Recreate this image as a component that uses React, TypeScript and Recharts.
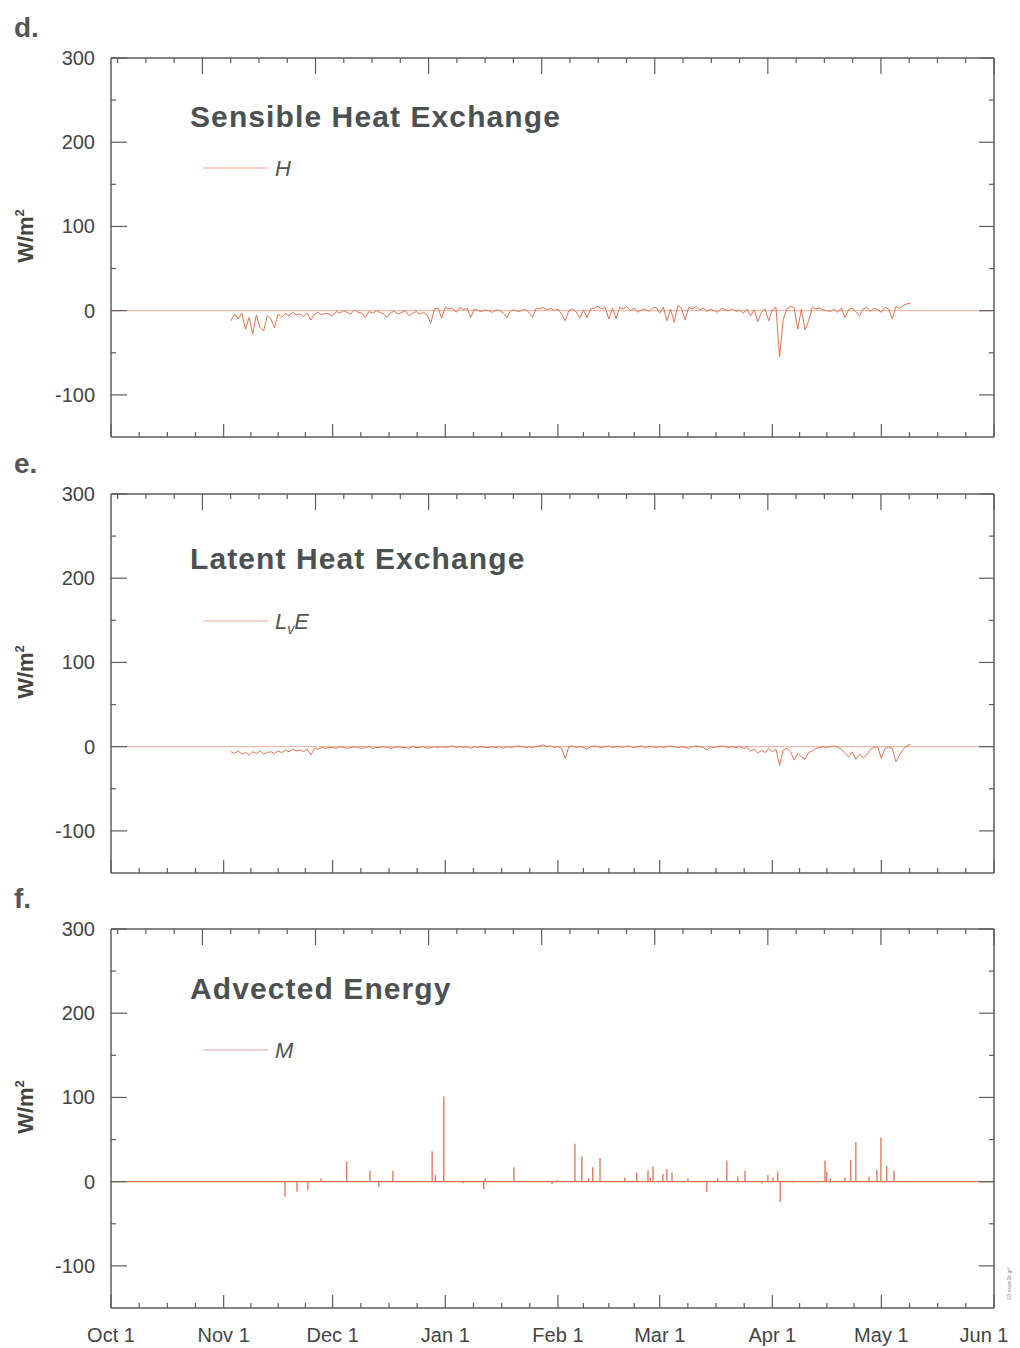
import { ComposedChart, Line, Bar, XAxis, YAxis, ReferenceLine } from "recharts";

// x axis: days since Oct 1
const monthDays = [0, 31, 61, 92, 123, 151, 182, 212, 243];
const monthLabels = ["Oct 1", "Nov 1", "Dec 1", "Jan 1", "Feb 1", "Mar 1", "Apr 1", "May 1", "Jun 1"];
const yTicks = [-100, -50, 0, 50, 100, 150, 200, 250, 300];
const yLabels = [-100, 0, 100, 200, 300];

// d. sensible heat H, daily from Nov 3 (day 33)
const hStart = 33;
const hValues = [
  -12, -4, -10, -3, -22, -8, -28, -5, -20, -24, -6, -10, -20, -4, -8,
  -3, -6, -2, -5, -4, -7, -3, -11, -4, -2, -5, -3, -4,
  -6, -1, -3, 0, -2, -4, 1, -2, -3, -8, -1, -3, 0, -2, -4,
  -8, -2, -1, -4, -2, 0, -6, -3, -1, -4, -2, -5, -15, 2, 3, -9, 4,
  2, 3, -2, 4, 1, 3, -8, 2, 0, -1, 1, 0, -2, 1, 0, -3, -8, 0,
  1, -1, 0, 2, -2, -8, 3, 2, 4, 1, 3, 0, 2, -4, -12, 0, 2, -1, -9, 1,
  -8, 2, 3, 5, 2, 4, -10, 3, -9, 4, 2, 5, 0, 3, -2, 1, 2, -1, 3, 4,
  -3, 4, -12, 2, -14, 6, 3, -11, 4, 2, 5, 1, 3, -1, 2, 0, -2, 3, 1, 0,
  2, -1, 1, -3, 2, -6, 1, -13, -2, 2, -12, 1, 4, -55, -10, 2, 5,
  4, -22, 2, -23, -12, 4, 2, 3, 1, 0, -1, 2, -2, 3, -8, 1, 3, -2, -6, 2,
  4, -1, 3, 1, -2, 4, 2, -10, 5, 3, 6, 8, 9,
];

// e. latent heat LvE, daily from Nov 3 (day 33)
const leStart = 33;
const leValues = [
  -6, -8, -5, -9, -7, -10, -6, -8, -5, -9, -7, -6, -8, -5, -7,
  -4, -6, -3, -5, -4, -6, -3, -10, -2, -3, -1, -2, -1,
  -1, -2, 0, -1, -2, -1, 0, -1, -2, -1, 0, -2, -1, -1, 0, -1, -2, -1, 0, -1,
  -1, -2, 0, -1, -1, 0, -2, -1, 0, -1,
  0, -1, 0, 1, -1, 0, -1, 0, -2, 0, -1, 0, -1, -1, 0, -1, 0, -2, 0, -1,
  0, 1, 0, -1, 0, -1, 0, 1, 2, 0,
  1, -1, 0, -2, -14, 0, 1, -1, 0, -1, -3, 0, 1, 0, -1, 0, 1, -1, 0, 0,
  -1, 1, 0, -1, 0, 1, -1, 0, 0, -1,
  0, -1, 0, 1, 0, -1, 0, -1, -2, 0, 1, 0, -1, -4, 0, -1, 0, 1, 0, -1,
  0, -1, 0, -2, -1, -5, -3, -8, -4, -7,
  -2, -6, -3, -22, -4, -2, -6, -16, -8, -12, -15, -7, -5, -2, -1, 0, -1, 0, 1, -1,
  -3, -8, -12, -6, -15, -9, -13, -10, -3, -1, 0, -14, -2, -1, -2, -18, -10, -3, 1, 3,
];

// f. advected energy M: isolated spikes (zero elsewhere)
const mDays = [
  47.9, 51.2, 54.2, 57.8, 64.9, 71.3, 73.7, 77.6, 88.4, 89.3, 91.6, 96.9, 102.6, 103.0,
  110.9, 121.4, 122.8, 127.7, 129.6, 131.5, 132.6, 134.6, 141.4, 144.7, 147.8, 148.4,
  149.2, 151.9, 153.0, 154.4, 158.8, 164.0, 167.0, 169.5, 172.5, 174.5, 179.2, 180.8,
  182.2, 183.5, 184.2, 187.6, 196.5, 197.0, 198.0, 202.0, 203.6, 205.0, 208.6, 210.8,
  211.9, 213.5, 215.5,
];
const mValues = [
  -18, -12, -10, 4, 24, 13, -6, 13, 36, 8, 101, -2, -9, 4,
  17, -3, 2, 45, 30, 4, 17, 28, 5, 11, 13, 5,
  18, 9, 15, 11, 4, -12, 4, 25, 6, 13, -2, 8,
  5, 12, -24, -1, 25, 12, 4, 5, 26, 47, 6, 14,
  52, 19, 13,
];

const hData = hValues.map((v, i) => ({ day: hStart + i, v }));
const leData = leValues.map((v, i) => ({ day: leStart + i, v }));
const mData = mDays.map((d, i) => ({ day: d, v: mValues[i] }));

const FONT = "'Liberation Sans', Arial, Helvetica, sans-serif";
const AXIS = "#5c5c5c";
const TEXT = "#444";
const LINE = "#dc7452";
const ZERO = "#eeaa9c";

// bottom minor ticks: quarter months
const bottomTicks: number[] = [];
for (let i = 0; i < monthDays.length - 1; i++) {
  const a = monthDays[i];
  const len = monthDays[i + 1] - a;
  bottomTicks.push(a, a + len / 4, a + len / 2, a + (3 * len) / 4);
}
bottomTicks.push(243);

// top axis: evenly spaced ticks stepping back from the right edge
const topTicks: number[] = [];
for (let k = 0; k < 32; k++) topTicks.push(243 - k * 7.78);

const BottomTick = (labels: boolean) => (p: any) => {
  const v = p.payload.value;
  const mi = monthDays.indexOf(v);
  const major = mi >= 0;
  return (
    <g>
      <line x1={p.x} x2={p.x} y1={p.y} y2={p.y - (major ? 13 : 5)} stroke={AXIS} strokeWidth={1.2} />
      {labels && major && (
        <text
          x={p.x + (mi === 8 ? -10 : 0)}
          y={p.y + 34}
          textAnchor="middle"
          fontSize={20}
          fill={TEXT}
          fontFamily={FONT}
        >
          {monthLabels[mi]}
        </text>
      )}
    </g>
  );
};

const TopTick = (p: any) => {
  const k = Math.round((243 - p.payload.value) / 7.78);
  const major = k % 4 === 0;
  return <line x1={p.x} x2={p.x} y1={p.y} y2={p.y + (major ? 16 : 5)} stroke={AXIS} strokeWidth={1.2} />;
};

const LeftTick = (p: any) => {
  const v = p.payload.value;
  const major = yLabels.includes(v);
  return (
    <g>
      <line x1={p.x} x2={p.x + (major ? 16 : 5)} y1={p.y} y2={p.y} stroke={AXIS} strokeWidth={1.2} />
      {major && (
        <text x={p.x - 16} y={p.y + 7} textAnchor="end" fontSize={20} fill={TEXT} fontFamily={FONT}>
          {v}
        </text>
      )}
    </g>
  );
};

const RightTick = (p: any) => {
  const major = yLabels.includes(p.payload.value);
  return <line x1={p.x} x2={p.x - (major ? 15 : 5)} y1={p.y} y2={p.y} stroke={AXIS} strokeWidth={1.2} />;
};

type PanelProps = {
  top: number;
  letter: string;
  title: string;
  legend: React.ReactNode;
  legendY: number;
  titleY: number;
  kind: "line" | "bar";
  data: { day: number; v: number }[];
  labels: boolean;
};

function Panel({ top, letter, title, legend, legendY, titleY, kind, data, labels }: PanelProps) {
  return (
    <div style={{ position: "absolute", left: 0, top, width: 1020, height: 480 }}>
      <ComposedChart width={1020} height={480} data={data} margin={{ top: 28, right: 0, bottom: 13, left: 0 }}>
        <XAxis
          xAxisId="bottom"
          dataKey="day"
          type="number"
          domain={[0, 243]}
          allowDataOverflow
          ticks={bottomTicks}
          interval={0}
          height={30}
          tickSize={0}
          tickMargin={0}
          tickLine={false}
          axisLine={{ stroke: AXIS, strokeWidth: 1.5 }}
          tick={BottomTick(labels)}
        />
        <XAxis
          xAxisId="top"
          orientation="top"
          dataKey="day"
          type="number"
          domain={[0, 243]}
          allowDataOverflow
          ticks={topTicks}
          interval={0}
          height={30}
          tickSize={0}
          tickMargin={0}
          tickLine={false}
          axisLine={{ stroke: AXIS, strokeWidth: 1.5 }}
          tick={TopTick}
        />
        <YAxis
          yAxisId="left"
          type="number"
          domain={[-150, 300]}
          allowDataOverflow
          ticks={yTicks}
          interval={0}
          width={111}
          tickSize={0}
          tickMargin={0}
          tickLine={false}
          axisLine={{ stroke: AXIS, strokeWidth: 1.5 }}
          tick={LeftTick}
        />
        <YAxis
          yAxisId="right"
          orientation="right"
          type="number"
          domain={[-150, 300]}
          allowDataOverflow
          ticks={yTicks}
          interval={0}
          width={26}
          tickSize={0}
          tickMargin={0}
          tickLine={false}
          axisLine={{ stroke: AXIS, strokeWidth: 1.5 }}
          tick={RightTick}
        />
        <ReferenceLine
          xAxisId="bottom"
          yAxisId="left"
          y={0}
          stroke={kind === "bar" ? LINE : ZERO}
          strokeWidth={kind === "bar" ? 1.3 : 1}
        />
        {kind === "line" ? (
          <Line
            xAxisId="bottom"
            yAxisId="left"
            dataKey="v"
            type="linear"
            stroke={LINE}
            strokeWidth={1}
            dot={false}
            isAnimationActive={false}
          />
        ) : (
          <Bar xAxisId="bottom" yAxisId="left" dataKey="v" fill={LINE} barSize={1.5} isAnimationActive={false} />
        )}
      </ComposedChart>
      <svg
        width={1020}
        height={480}
        style={{ position: "absolute", left: 0, top: 0, pointerEvents: "none" }}
      >
        <text x={14} y={37} fontSize={28} fontWeight="bold" fill="#555" fontFamily={FONT}>
          {letter}
        </text>
        <text x={190} y={titleY} fontSize={30} fontWeight="bold" fill="#4b5151" fontFamily={FONT} letterSpacing={1.1}>
          {title}
        </text>
        <line x1={203} x2={268} y1={legendY} y2={legendY} stroke="#e9a496" strokeWidth={1.2} />
        <text x={275} y={legendY + 8} fontSize={22} fontStyle="italic" fill="#555" fontFamily={FONT}>
          {legend}
        </text>
        <text
          x={0}
          y={0}
          transform={`translate(33, 236) rotate(-90)`}
          textAnchor="middle"
          fontSize={22}
          fontWeight="bold"
          fill="#444"
          fontFamily={FONT}
        >
          W/m<tspan dy={-9} fontSize={13}>2</tspan>
        </text>
      </svg>
    </div>
  );
}

export default function App() {
  return (
    <div
      style={{
        position: "absolute",
        left: 0,
        top: 0,
        width: 1020,
        height: 1348,
        background: "#fff",
        overflow: "hidden",
        fontFamily: FONT,
      }}
    >
      <Panel
        top={0}
        letter="d."
        title="Sensible Heat Exchange"
        titleY={127}
        legend="H"
        legendY={168}
        kind="line"
        data={hData}
        labels={false}
      />
      <Panel
        top={436}
        letter="e."
        title="Latent Heat Exchange"
        titleY={133}
        legend={
          <>
            L<tspan dy={5} fontSize={14}>v</tspan>
            <tspan dy={-5}>E</tspan>
          </>
        }
        legendY={185}
        kind="line"
        data={leData}
        labels={false}
      />
      <Panel
        top={871}
        letter="f."
        title="Advected Energy"
        titleY={128}
        legend="M"
        legendY={179}
        kind="bar"
        data={mData}
        labels={true}
      />
      <svg width={20} height={80} style={{ position: "absolute", left: 1000, top: 1225 }}>
        <text x={0} y={0} transform="translate(11, 75) rotate(-90)" fontSize={5} fill="#888" fontFamily={FONT}>
          EB ssaw1b.grf
        </text>
      </svg>
    </div>
  );
}
